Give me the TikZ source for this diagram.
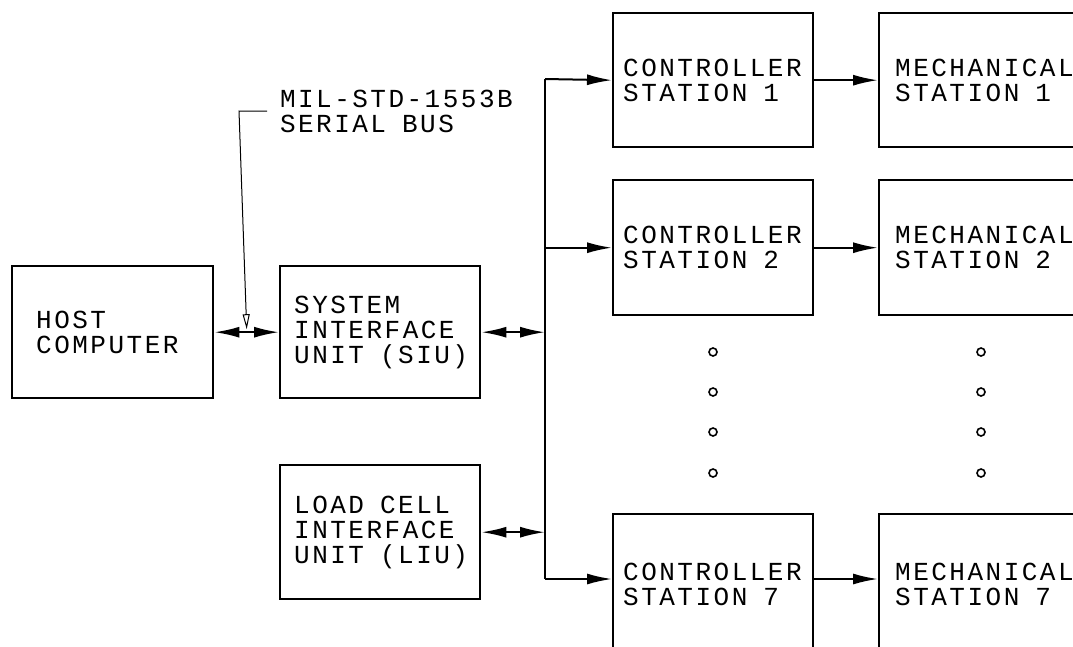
\documentclass[tikz,border=0pt]{standalone}
\usepackage{fontspec}
\setmainfont[LetterSpace=9.6]{Liberation Mono}
\usetikzlibrary{arrows.meta,calc}
\newcommand{\lblfont}{\fontsize{26}{25}\selectfont}
\newcommand{\gapp}{\hspace{16pt}}
\begin{document}
\begin{tikzpicture}[x=1pt,y=-1pt,line width=2pt,
  blk/.style={draw,line width=2.4pt,rectangle,anchor=north west,align=left,font=\lblfont,inner ysep=0pt},
  arr/.style={-{Latex[length=25pt,width=11pt]}},
  dbl/.style={{Latex[length=25pt,width=11pt]}-{Latex[length=25pt,width=11pt]}},
  lead/.style={line width=1pt,-{Triangle[open,length=15pt,width=7pt]}},
  dot/.style={circle,draw,line width=1.6pt,minimum size=8pt,inner sep=0pt}]
\useasboundingbox (0,0) rectangle (1073,646);
\clip (0,0) rectangle (1073,646);
% boxes
\node[blk,minimum width=201,minimum height=132,inner xsep=24,text width=153] (host) at (11,265) {HOST\\COMPUTER};
\node[blk,minimum width=200,minimum height=132,inner xsep=14,text width=172] (siu) at (279,265) {SYSTEM\\INTERFACE\\UNIT\gapp(SIU)};
\node[blk,minimum width=200,minimum height=134,inner xsep=14,text width=172] (liu) at (279,464) {LOAD\gapp CELL\\INTERFACE\\UNIT\gapp(LIU)};
\node[blk,minimum width=200,minimum height=134,inner xsep=10,text width=180] (c1) at (612,12) {CONTROLLER\\STATION\gapp 1};
\node[blk,minimum width=200,minimum height=135,inner xsep=10,text width=180] (c2) at (612,179) {CONTROLLER\\STATION\gapp 2};
\node[blk,minimum width=200,minimum height=140,inner xsep=10,text width=180] (c7) at (612,513) {CONTROLLER\\STATION\gapp 7};
\node[blk,minimum width=220,minimum height=134,inner xsep=16,text width=188] (m1) at (878,12) {MECHANICAL\\STATION\gapp 1};
\node[blk,minimum width=220,minimum height=135,inner xsep=16,text width=188] (m2) at (878,179) {MECHANICAL\\STATION\gapp 2};
\node[blk,minimum width=220,minimum height=140,inner xsep=16,text width=188] (m7) at (878,513) {MECHANICAL\\STATION\gapp 7};
% dots
\foreach \i/\yy in {1/352,2/392,3/432,4/473}{
  \node[dot] (dl\i) at (713,\yy) {};
  \node[dot] (dr\i) at (981,\yy) {};
}
% bus
\coordinate (bustop) at (545,79);
\coordinate (busbot) at (545,579);
\draw (bustop) -- (busbot);
\draw[arr] (bustop) -- (c1.west);
\draw[arr] (c2.west -| bustop) -- (c2.west);
\draw[arr] (busbot) -- (busbot -| c7.west);
\draw[dbl] (siu.east) -- (siu.east -| bustop);
\draw[dbl] (liu.east) -- (liu.east -| bustop);
\draw[dbl] (host.east) -- (siu.west);
\draw[arr] (c1.east) -- (m1.west);
\draw[arr] (c2.east) -- (m2.west);
\draw[arr] (busbot -| c7.east) -- (busbot -| m7.west);
% leader
\coordinate (ltip) at ($(host.east)!0.5!(siu.west)+(0,-3)$);
\coordinate (l0) at (267,111);
\coordinate (l1) at (239,111);
\draw[lead] (l0) -- (l1) -- (ltip);
\node[anchor=west,align=left,font=\lblfont,inner sep=0pt] (bus) at (279,111) {MIL-STD-1553B\\SERIAL\gapp BUS};
\end{tikzpicture}
\end{document}
